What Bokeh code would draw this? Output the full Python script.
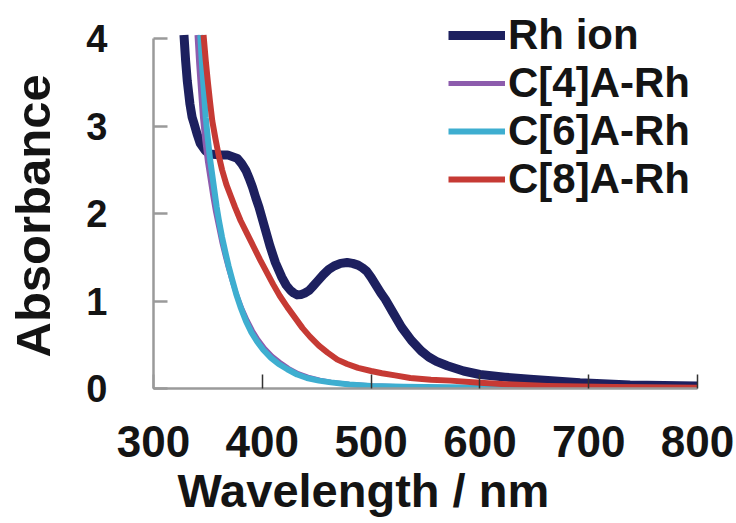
from bokeh.plotting import figure
from bokeh.models import (Range1d, FixedTicker, Legend, LegendItem, Title)
from bokeh.embed import file_html
from bokeh.resources import INLINE

# ---- data ----
rh_wl = [328, 329.5, 331, 333.5, 335.5, 337, 340, 343, 347.5, 352, 360, 368, 377, 381, 385, 388,
         391, 394, 397, 402, 407, 412, 418, 422, 426, 429, 432, 436, 439, 443, 446, 451, 456,
         461, 466, 472, 478, 483, 488, 492, 496, 500, 505, 509, 513, 520, 528, 537, 546, 553,
         560, 570, 585, 600, 623, 646, 692, 738, 800]
rh_abs = [4.04, 3.75, 3.52, 3.25, 3.10, 3.04, 2.91, 2.80, 2.72, 2.68, 2.67, 2.67, 2.63, 2.57,
          2.49, 2.40, 2.30, 2.18, 2.07, 1.85, 1.63, 1.44, 1.27, 1.18, 1.12, 1.09, 1.07, 1.075,
          1.09, 1.12, 1.16, 1.23, 1.30, 1.36, 1.40, 1.43, 1.44, 1.43, 1.41, 1.38, 1.34, 1.27,
          1.17, 1.09, 1.02, 0.87, 0.70, 0.55, 0.43, 0.36, 0.31, 0.26, 0.20, 0.16, 0.13, 0.105,
          0.066, 0.04, 0.03]

c4_wl = [340, 341.5, 343, 345, 347, 349.5, 352, 354.5, 357, 360, 363, 366, 369, 373, 377, 381,
         386, 391, 396, 402, 409, 416, 424, 433, 442, 453, 464, 480, 500, 530, 570, 620, 700, 800]
c4_abs = [4.04, 3.72, 3.45, 3.10, 2.85, 2.60, 2.40, 2.20, 2.02, 1.84, 1.66, 1.51, 1.37, 1.20,
          1.05, 0.92, 0.78, 0.66, 0.56, 0.46, 0.37, 0.30, 0.23, 0.17, 0.13, 0.095, 0.07, 0.05,
          0.032, 0.02, 0.012, 0.008, 0.005, 0.003]

c6_wl = [343, 344.5, 346, 348, 350, 352, 354, 356, 358, 360, 363, 366, 369, 372, 376, 380,
         385, 390, 395, 401, 408, 415, 423, 432, 441, 452, 463, 480, 500, 530, 570, 620, 700, 800]
c6_abs = [4.04, 3.72, 3.45, 3.10, 2.85, 2.62, 2.44, 2.26, 2.08, 1.93, 1.73, 1.56, 1.40, 1.26,
          1.08, 0.93, 0.77, 0.64, 0.54, 0.44, 0.35, 0.28, 0.22, 0.16, 0.12, 0.09, 0.07, 0.045,
          0.03, 0.02, 0.015, 0.01, 0.008, 0.005]

c8_wl = [346, 348, 350, 352, 354, 357, 360, 363, 367, 371, 375, 380, 386, 392, 398, 404, 410,
         416, 423, 430, 437, 444, 452, 460, 469, 478, 488, 500, 510, 522, 536, 555, 573, 600,
         630, 662, 723, 800]
c8_abs = [4.04, 3.75, 3.50, 3.27, 3.06, 2.85, 2.66, 2.50, 2.33, 2.20, 2.07, 1.92, 1.77, 1.62,
          1.47, 1.33, 1.19, 1.06, 0.93, 0.81, 0.69, 0.59, 0.49, 0.41, 0.33, 0.28, 0.235, 0.20,
          0.175, 0.15, 0.12, 0.10, 0.09, 0.066, 0.045, 0.03, 0.017, 0.01]

series_names = ["Rh ion", "C[4]A-Rh", "C[6]A-Rh", "C[8]A-Rh"]
x_ticks = [300, 400, 500, 600, 700, 800]
y_ticks = [0, 1, 2, 3, 4]
y_axis_max = 4

FONT = "Liberation Sans"
TXT = "#141414"

# frame: x 153..697, y 6..388 ; y=4 sits at 38 px
p = figure(width=736, height=523, output_backend="svg", toolbar_location=None,
           x_range=Range1d(300, 800), y_range=Range1d(0, 382 / 87.5),
           min_border_left=153, min_border_right=39, min_border_top=6, min_border_bottom=135)
p.outline_line_color = None
p.grid.visible = False
p.background_fill_color = "white"
p.border_fill_color = "white"

kw = dict(line_join="round", line_cap="butt")
r_rh = p.line(rh_wl, rh_abs, line_color="#1d205f", line_width=9, **kw)
r_c4 = p.line(c4_wl, c4_abs, line_color="#8d5cad", line_width=5, **kw)
r_c6 = p.line(c6_wl, c6_abs, line_color="#3eaed0", line_width=6, **kw)
r_c8 = p.line(c8_wl, c8_abs, line_color="#c63a34", line_width=6, **kw)

for ax in (p.xaxis[0], p.yaxis[0]):
    ax.axis_line_color = "#9a9a9a"
    ax.axis_line_width = 2.5
    ax.major_tick_out = 0
    ax.major_tick_in = 14
    ax.minor_tick_line_color = None
    ax.major_label_text_font = FONT
    ax.major_label_text_font_style = "bold"
    ax.major_label_text_color = TXT

p.xaxis.ticker = FixedTicker(ticks=x_ticks)
p.xaxis.major_tick_line_color = "#333333"
p.xaxis.major_tick_line_width = 1.5
p.xaxis.major_label_text_font_size = "44px"
p.xaxis.major_label_standoff = 37

p.yaxis.ticker = FixedTicker(ticks=y_ticks)
p.yaxis.bounds = (0, y_axis_max)
p.yaxis.major_tick_line_color = "#9a9a9a"
p.yaxis.major_tick_line_width = 2.5
p.yaxis.major_label_text_font_size = "38px"
p.yaxis.major_label_standoff = 46
# empty spacer label: keeps a gap between tick labels and the title
p.yaxis.axis_label = " "
p.yaxis.axis_label_text_font_size = "1px"
p.yaxis.axis_label_standoff = 18

yt = Title(text="Absorbance", align="left", offset=31, standoff=3,
           text_font=FONT, text_font_style="bold", text_font_size="49px", text_color=TXT)
p.add_layout(yt, "left")

xt = Title(text="Wavelength / nm", align="left", offset=24, standoff=5,
           text_font=FONT, text_font_style="bold", text_font_size="47px", text_color=TXT)
p.add_layout(xt, "below")

legend = Legend(items=[LegendItem(label=series_names[0], renderers=[r_rh]),
                       LegendItem(label=series_names[1], renderers=[r_c4]),
                       LegendItem(label=series_names[2], renderers=[r_c6]),
                       LegendItem(label=series_names[3], renderers=[r_c8])],
                location=(295, 185), margin=0, padding=0, spacing=0,
                glyph_width=57, glyph_height=48, label_height=48, label_standoff=3,
                border_line_alpha=0, background_fill_alpha=0,
                label_text_font=FONT, label_text_font_style="bold",
                label_text_font_size="42px", label_text_color=TXT)
p.add_layout(legend, "center")

open("out.html", "w").write(file_html(p, INLINE))
